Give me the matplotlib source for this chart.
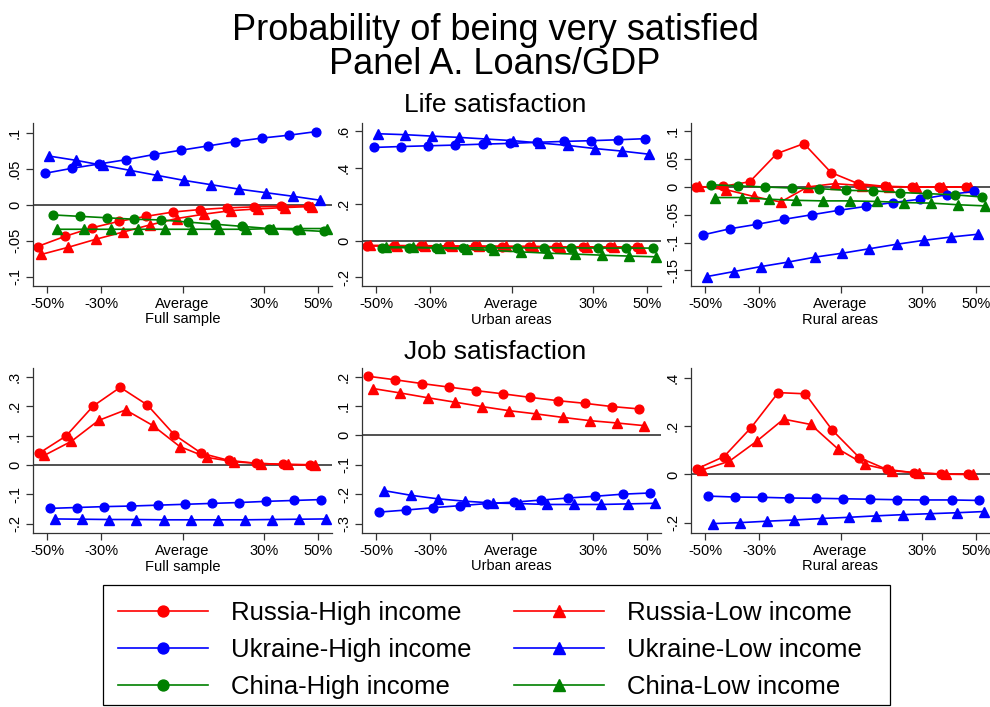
import numpy as np
import matplotlib.pyplot as plt
from matplotlib.patches import Rectangle

plt.rcParams['font.family'] = ['Liberation Sans', 'DejaVu Sans']

# deviation of Loans/GDP from the average (%)
x_levels = [-50, -40, -30, -20, -10, 0, 10, 20, 30, 40, 50]
x_ticks = [-50, -30, 0, 30, 50]
x_ticklabels = ['-50%', '-30%', 'Average', '30%', '50%']

# Life satisfaction - full sample
life_full_rus_high = [-0.058, -0.044, -0.032, -0.023, -0.016, -0.010, -0.0065, -0.0042, -0.0028, -0.0019, -0.0014]
life_full_rus_low = [-0.069, -0.059, -0.048, -0.038, -0.028, -0.019, -0.013, -0.008, -0.0056, -0.0037, -0.0023]
life_full_ukr_high = [0.044, 0.051, 0.057, 0.063, 0.070, 0.076, 0.082, 0.088, 0.093, 0.097, 0.102]
life_full_ukr_low = [0.068, 0.062, 0.055, 0.048, 0.041, 0.034, 0.028, 0.022, 0.017, 0.012, 0.0065]
life_full_chn_high = [-0.014, -0.016, -0.018, -0.020, -0.021, -0.024, -0.027, -0.030, -0.033, -0.035, -0.037]
life_full_chn_low = [-0.034, -0.034, -0.034, -0.034, -0.034, -0.034, -0.034, -0.034, -0.033, -0.033, -0.033]

# Life satisfaction - urban areas
life_urban_rus_high = [-0.029, -0.029, -0.030, -0.030, -0.031, -0.032, -0.032, -0.033, -0.033, -0.034, -0.034]
life_urban_rus_low = [-0.025, -0.026, -0.027, -0.028, -0.029, -0.030, -0.031, -0.033, -0.034, -0.036, -0.038]
life_urban_ukr_high = [0.512, 0.517, 0.521, 0.525, 0.530, 0.534, 0.540, 0.545, 0.549, 0.554, 0.560]
life_urban_ukr_low = [0.587, 0.582, 0.574, 0.567, 0.558, 0.549, 0.536, 0.523, 0.506, 0.492, 0.475]
life_urban_chn_high = [-0.038, -0.038, -0.038, -0.039, -0.039, -0.039, -0.039, -0.039, -0.040, -0.040, -0.040]
life_urban_chn_low = [-0.033, -0.035, -0.040, -0.046, -0.053, -0.061, -0.068, -0.073, -0.079, -0.084, -0.088]

# Life satisfaction - rural areas
life_rural_rus_high = [0.0, 0.001, 0.0094, 0.060, 0.078, 0.026, 0.006, 0.001, 0.0, 0.0, 0.0]
life_rural_rus_low = [0.001, -0.005, -0.017, -0.027, 0.0, 0.006, 0.0024, 0.0006, 0.0, 0.0, 0.0]
life_rural_ukr_high = [-0.086, -0.075, -0.067, -0.058, -0.050, -0.042, -0.035, -0.028, -0.022, -0.014, -0.008]
life_rural_ukr_low = [-0.161, -0.152, -0.143, -0.135, -0.126, -0.119, -0.111, -0.103, -0.096, -0.090, -0.085]
life_rural_chn_high = [0.004, 0.002, 0.0, -0.002, -0.003, -0.006, -0.007, -0.010, -0.012, -0.014, -0.018]
life_rural_chn_low = [-0.019, -0.019, -0.022, -0.024, -0.025, -0.025, -0.026, -0.028, -0.029, -0.032, -0.034]

# Job satisfaction - full sample
job_full_rus_high = [0.040, 0.099, 0.201, 0.265, 0.205, 0.103, 0.040, 0.016, 0.006, 0.002, 0.0]
job_full_rus_low = [0.033, 0.081, 0.152, 0.188, 0.135, 0.063, 0.026, 0.011, 0.005, 0.002, 0.001]
job_full_ukr_high = [-0.148, -0.145, -0.142, -0.140, -0.137, -0.134, -0.131, -0.128, -0.124, -0.121, -0.118]
job_full_ukr_low = [-0.184, -0.185, -0.186, -0.186, -0.187, -0.187, -0.187, -0.187, -0.186, -0.185, -0.184]

# Job satisfaction - urban areas
job_urban_rus_high = [0.201, 0.189, 0.176, 0.164, 0.152, 0.141, 0.129, 0.118, 0.109, 0.098, 0.090]
job_urban_rus_low = [0.159, 0.144, 0.128, 0.113, 0.098, 0.084, 0.073, 0.061, 0.050, 0.042, 0.033]
job_urban_ukr_high = [-0.261, -0.254, -0.246, -0.239, -0.232, -0.227, -0.220, -0.213, -0.207, -0.200, -0.196]
job_urban_ukr_low = [-0.188, -0.204, -0.216, -0.224, -0.230, -0.232, -0.235, -0.235, -0.235, -0.233, -0.231]

# Job satisfaction - rural areas
job_rural_rus_high = [0.023, 0.074, 0.194, 0.339, 0.334, 0.183, 0.069, 0.021, 0.007, 0.001, 0.0]
job_rural_rus_low = [0.018, 0.055, 0.137, 0.229, 0.207, 0.106, 0.041, 0.015, 0.006, 0.001, 0.0]
job_rural_ukr_high = [-0.090, -0.094, -0.095, -0.098, -0.099, -0.101, -0.103, -0.105, -0.106, -0.106, -0.108]
job_rural_ukr_low = [-0.204, -0.200, -0.194, -0.189, -0.183, -0.178, -0.172, -0.167, -0.163, -0.159, -0.154]

series_style = {
    'Russia-High income': ('red', 'o'),
    'Russia-Low income': ('red', '^'),
    'Ukraine-High income': ('blue', 'o'),
    'Ukraine-Low income': ('blue', '^'),
    'China-High income': ('green', 'o'),
    'China-Low income': ('green', '^'),
}

panels = [
    # (row, col, xlabel, series, yticks, yticklabels, ylim)
    (0, 0, 'Full sample',
     {'Russia-High income': life_full_rus_high, 'Russia-Low income': life_full_rus_low,
      'Ukraine-High income': life_full_ukr_high, 'Ukraine-Low income': life_full_ukr_low,
      'China-High income': life_full_chn_high, 'China-Low income': life_full_chn_low},
     [-0.1, -0.05, 0, 0.05, 0.1], ['-.1', '-.05', '0', '.05', '.1'], (-0.113, 0.114)),
    (0, 1, 'Urban areas',
     {'Russia-High income': life_urban_rus_high, 'Russia-Low income': life_urban_rus_low,
      'Ukraine-High income': life_urban_ukr_high, 'Ukraine-Low income': life_urban_ukr_low,
      'China-High income': life_urban_chn_high, 'China-Low income': life_urban_chn_low},
     [-0.2, 0, 0.2, 0.4, 0.6], ['-.2', '0', '.2', '.4', '.6'], (-0.248, 0.646)),
    (0, 2, 'Rural areas',
     {'Russia-High income': life_rural_rus_high, 'Russia-Low income': life_rural_rus_low,
      'Ukraine-High income': life_rural_ukr_high, 'Ukraine-Low income': life_rural_ukr_low,
      'China-High income': life_rural_chn_high, 'China-Low income': life_rural_chn_low},
     [-0.15, -0.1, -0.05, 0, 0.05, 0.1], ['-.15', '-.1', '-.05', '0', '.05', '.1'], (-0.178, 0.115)),
    (1, 0, 'Full sample',
     {'Russia-High income': job_full_rus_high, 'Russia-Low income': job_full_rus_low,
      'Ukraine-High income': job_full_ukr_high, 'Ukraine-Low income': job_full_ukr_low},
     [-0.2, -0.1, 0, 0.1, 0.2, 0.3], ['-.2', '-.1', '0', '.1', '.2', '.3'], (-0.232, 0.331)),
    (1, 1, 'Urban areas',
     {'Russia-High income': job_urban_rus_high, 'Russia-Low income': job_urban_rus_low,
      'Ukraine-High income': job_urban_ukr_high, 'Ukraine-Low income': job_urban_ukr_low},
     [-0.3, -0.2, -0.1, 0, 0.1, 0.2], ['-.3', '-.2', '-.1', '0', '.1', '.2'], (-0.332, 0.229)),
    (1, 2, 'Rural areas',
     {'Russia-High income': job_rural_rus_high, 'Russia-Low income': job_rural_rus_low,
      'Ukraine-High income': job_rural_ukr_high, 'Ukraine-Low income': job_rural_ukr_low},
     [-0.2, 0, 0.2, 0.4], ['-.2', '0', '.2', '.4'], (-0.243, 0.441)),
]

W, H = 990, 707
fig = plt.figure(figsize=(W / 100, H / 100), dpi=100)

# axes boxes in pixels: left edges of columns, top/bottom of rows
col_left = [33, 362, 691]
col_width = 299
row_top = [123, 368]
row_bottom = [286, 533]
dodge_half = [3.5, 3.0]

handles = {}
for row, col, xlabel, series, yticks, yticklabels, ylim in panels:
    ax = fig.add_axes([col_left[col] / W, 1 - row_bottom[row] / H,
                       col_width / W, (row_bottom[row] - row_top[row]) / H])
    # spread the series a little so overlapping markers stay visible
    offsets = np.linspace(-dodge_half[row], dodge_half[row], len(series))
    ax.axhline(0, color='#222222', lw=1.1, zorder=1)
    for off, (name, vals) in zip(offsets, series.items()):
        color, marker = series_style[name]
        ms = 6.6 if marker == '^' else 6.3
        line, = ax.plot(np.array(x_levels) + off, vals, color=color, marker=marker,
                        ms=ms, lw=1.2, label=name, zorder=2)
        handles[name] = line
    ax.set_xlim(-55.2, 55.2)
    ax.set_ylim(*ylim)
    ax.set_xticks(x_ticks)
    ax.set_xticklabels(x_ticklabels, fontsize=10.5)
    ax.set_yticks(yticks)
    ax.set_yticklabels(yticklabels, fontsize=10.5, rotation=90, va='center')
    ax.set_xlabel(xlabel, fontsize=10.5, labelpad=1)
    ax.tick_params(direction='out', length=5, width=0.9, color='#333333', pad=3)
    for side in ['top', 'right']:
        ax.spines[side].set_visible(False)
    for side in ['left', 'bottom']:
        ax.spines[side].set_color('#333333')
        ax.spines[side].set_linewidth(0.9)

fig.text(0.5, 1 - 31 / H, 'Probability of being very satisfied', ha='center', va='center', fontsize=26)
fig.text(0.5, 1 - 64 / H, 'Panel A. Loans/GDP', ha='center', va='center', fontsize=26)
fig.text(0.5, 1 - 105 / H, 'Life satisfaction', ha='center', va='center', fontsize=19)
fig.text(0.5, 1 - 352 / H, 'Job satisfaction', ha='center', va='center', fontsize=19)

order = ['Russia-High income', 'Ukraine-High income', 'China-High income',
         'Russia-Low income', 'Ukraine-Low income', 'China-Low income']
fig.legend([handles[k] for k in order], order, ncol=2, loc='center left',
           bbox_to_anchor=(118 / W, 1 - 650 / H), fontsize=18.5, frameon=False,
           handlelength=3.5, handletextpad=0.9, columnspacing=1.65,
           labelspacing=0.5, markerscale=1.25, borderpad=0, borderaxespad=0)
# legend box
fig.patches.append(Rectangle((103 / W, 1 - 705 / H), 787 / W, 120 / H, transform=fig.transFigure,
                             fill=False, edgecolor='black', lw=0.9))

fig.savefig('out.png', dpi=100, facecolor='white')
